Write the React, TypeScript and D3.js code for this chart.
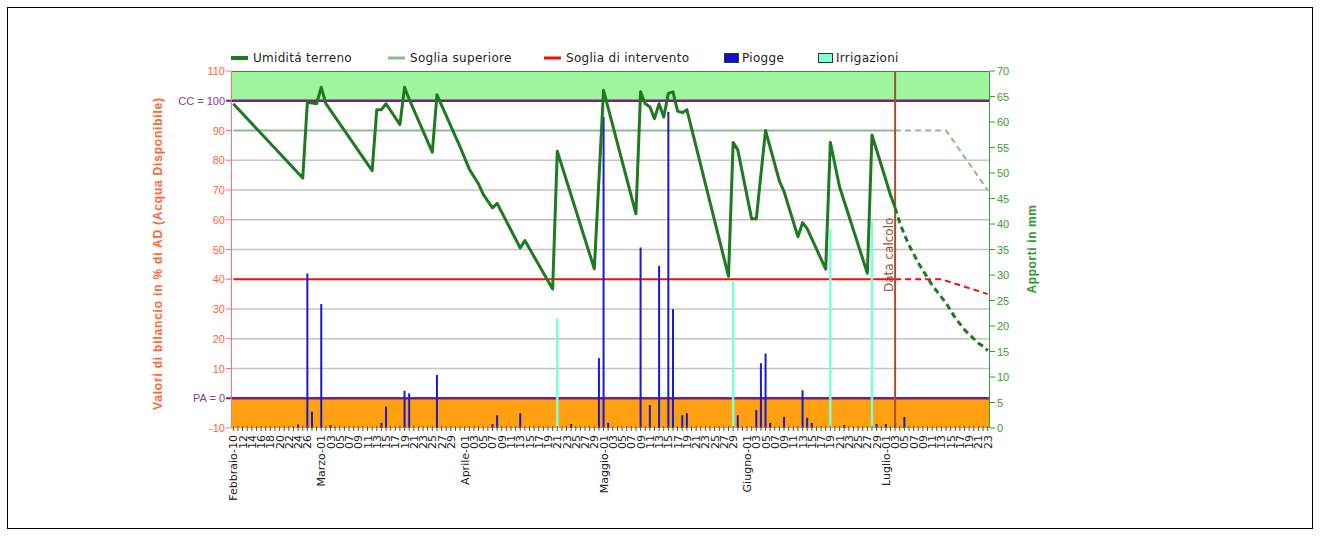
import React from 'react';
import * as d3 from 'd3';

// ---------- DATA ----------
const MONTHS_IT = ['Gennaio', 'Febbraio', 'Marzo', 'Aprile', 'Maggio', 'Giugno', 'Luglio', 'Agosto', 'Settembre', 'Ottobre', 'Novembre', 'Dicembre'];
const FIRST_DAY = new Date(2022, 1, 10);
const LAST_DAY = new Date(2022, 6, 23);
const CALC_DATE = '07-03';

// Umidità terreno (measured, solid)
const moistureDates = ['02-10', '02-25', '02-26', '02-28', '03-01', '03-02', '03-12', '03-13', '03-14', '03-15', '03-18', '03-19', '03-20', '03-25', '03-26', '03-31', '04-02', '04-04', '04-05', '04-07', '04-08', '04-13', '04-14', '04-20', '04-21', '04-29', '05-01', '05-08', '05-09', '05-10', '05-11', '05-12', '05-13', '05-14', '05-15', '05-16', '05-17', '05-18', '05-19', '05-28', '05-29', '05-30', '06-02', '06-03', '06-05', '06-08', '06-09', '06-12', '06-13', '06-14', '06-18', '06-19', '06-21', '06-27', '06-28', '07-02', '07-03'];
const moistureValues = [99, 74, 99.5, 99, 104.5, 99, 76.5, 97, 97, 99, 92, 104.5, 100.5, 82.7, 102, 84.5, 77, 72, 68.5, 64, 65.5, 50.5, 53, 36.7, 83, 43.5, 103.5, 62, 103, 99, 98, 94, 99, 94.5, 102.5, 103, 96.5, 96, 97, 41, 86, 83.5, 60.3, 60.3, 90, 73, 69.5, 54.3, 59, 57, 43.4, 86, 71, 42, 88.5, 68.3, 64];

// Umidità terreno (forecast, dashed)
const forecastDates = ['07-03', '07-04', '07-05', '07-06', '07-07', '07-08', '07-09', '07-10', '07-11', '07-12', '07-13', '07-14', '07-15', '07-16', '07-17', '07-18', '07-19', '07-20', '07-21', '07-22', '07-23'];
const forecastValues = [64, 59, 55, 51.5, 48.5, 45.5, 43, 40.5, 38, 36, 34, 32, 29.5, 27, 25, 23, 21.5, 20, 18.5, 17.5, 16];

// Soglia superiore
const upperDates = ['02-10', '07-03', '07-14', '07-23'];
const upperValues = [90, 90, 90, 70];

// Soglia di intervento
const interventionDates = ['02-10', '07-03', '07-13', '07-23'];
const interventionValues = [40, 40, 40, 35];

// Piogge (mm)
const rainDates = ['02-24', '02-26', '02-27', '03-01', '03-03', '03-14', '03-15', '03-19', '03-20', '03-26', '04-07', '04-08', '04-13', '04-24', '04-30', '05-01', '05-02', '05-09', '05-11', '05-13', '05-15', '05-16', '05-18', '05-19', '05-30', '06-03', '06-04', '06-05', '06-06', '06-09', '06-13', '06-14', '06-15', '06-22', '06-29', '07-01', '07-03', '07-05'];
const rainValues = [0.7, 30.3, 3.2, 24.3, 0.6, 1, 4.2, 7.3, 6.8, 10.4, 0.8, 2.5, 2.9, 0.8, 13.7, 61, 1, 35.4, 4.5, 31.8, 62, 23.3, 2.5, 2.9, 2.5, 3.5, 12.7, 14.6, 1, 2.2, 7.4, 2, 1, 0.6, 0.8, 0.8, 1, 2.2];

// Irrigazioni (mm)
const irrigationDates = ['04-21', '05-29', '06-19', '06-28'];
const irrigationValues = [21.5, 29, 39, 40.5];

// Axis ticks
const leftTicks = [-10, 0, 10, 20, 30, 40, 50, 60, 70, 80, 90, 100, 110];
const rightTicks = [0, 5, 10, 15, 20, 25, 30, 35, 40, 45, 50, 55, 60, 65, 70];
const gridValues = [10, 20, 30, 50, 60, 70, 80];

// ---------- HELPERS ----------
const days = d3.timeDay.range(FIRST_DAY, d3.timeDay.offset(LAST_DAY, 1));
const fmtKey = d3.timeFormat('%m-%d');
const dayKeys = days.map(fmtKey);
const pad2 = (n: number) => (n < 10 ? '0' + n : '' + n);
const tickLabels: { key: string; text: string }[] = days
  .map((d, i) => {
    const dd = d.getDate();
    const monthStart = i === 0 || dd === 1;
    const startDay = d.getMonth() === FIRST_DAY.getMonth() ? FIRST_DAY.getDate() : 1;
    if ((dd - startDay) % 2 !== 0) return null;
    const next = d3.timeDay.offset(d, 1);
    if (!monthStart && next.getDate() === 1) return null;
    return { key: fmtKey(d), text: monthStart ? `${MONTHS_IT[d.getMonth()]}-${pad2(dd)}` : pad2(dd) };
  })
  .filter(Boolean) as { key: string; text: string }[];

const L = 231, R = 990, T = 71, B = 428;

export default function App() {
  const x = d3.scaleBand<string>().domain(dayKeys).range([L, R]).padding(0);
  const xc = (k: string) => (x(k) ?? 0) + x.bandwidth() / 2;
  const y = d3.scaleLinear().domain([-10, 110]).range([B, T]);
  const yR = d3.scaleLinear().domain([0, 70]).range([B, T]);

  const line = d3
    .line<[string, number]>()
    .x((d) => xc(d[0]))
    .y((d) => y(d[1]));

  const zip = (ks: string[], vs: number[]) => ks.map((k, i) => [k, vs[i]] as [string, number]);
  const splitAt = (pts: [string, number][]) => {
    const ci = dayKeys.indexOf(CALC_DATE);
    const solid = pts.filter((p) => dayKeys.indexOf(p[0]) <= ci);
    const dashed = pts.filter((p) => dayKeys.indexOf(p[0]) >= ci);
    return { solid, dashed };
  };

  const upper = splitAt(zip(upperDates, upperValues));
  const interv = splitAt(zip(interventionDates, interventionValues));
  const moisture = zip(moistureDates, moistureValues);
  const forecast = zip(forecastDates, forecastValues);

  const cUpper = '#8fbc8f';
  const cRed = '#ee1111';
  const cGreen = '#1f7a1f';
  const cPurple = '#7a1f7a';
  const cLeft = '#ff6633';
  const cRight = '#33a033';
  const cBrown = '#a0522d';
  const font = 'DejaVu Sans, Verdana, sans-serif';
  const fontA = 'Liberation Sans, Arial, sans-serif';

  const legendItems = [
    { type: 'line', color: cGreen, x: 231, label: 'Umiditá terreno', w: 3 },
    { type: 'line', color: cUpper, x: 388, label: 'Soglia superiore', w: 2 },
    { type: 'line', color: cRed, x: 544, label: 'Soglia di intervento', w: 2 },
    { type: 'box', color: '#1010cc', x: 724, label: 'Piogge', w: 0 },
    { type: 'box', color: '#7fffd4', x: 818, label: 'Irrigazioni', w: 0 },
  ];

  const xCalc = xc(CALC_DATE);

  return (
    <svg width={1320} height={536} style={{ position: 'absolute', left: 0, top: 0, background: '#fff' }}>
      <rect x={7.5} y={7.5} width={1305} height={521} fill="#fff" stroke="#000" strokeWidth={1} />

      {/* Legend */}
      {legendItems.map((it) => (
        <g key={it.label}>
          {it.type === 'line' ? (
            <line x1={it.x} x2={it.x + 17} y1={58} y2={58} stroke={it.color} strokeWidth={it.w + 1} />
          ) : (
            <rect x={it.x + 0.5} y={53.5} width={14} height={9} fill={it.color} stroke="#333" strokeWidth={1} />
          )}
          <text x={it.x + (it.type === 'line' ? 22 : 18)} y={62} fontSize={12} letterSpacing={0.3} fontFamily={font} fill="#222">
            {it.label}
          </text>
        </g>
      ))}

      {/* bands */}
      <rect x={L} y={y(110)} width={R - L} height={y(100) - y(110)} fill="#9df59d" />
      <rect x={L} y={y(0)} width={R - L} height={y(-10) - y(0)} fill="#ffa010" />

      {/* grid */}
      {gridValues.map((v) => (
        <line key={v} x1={L} x2={R} y1={y(v)} y2={y(v)} stroke="#c4c4c4" strokeWidth={1.5} />
      ))}

      {/* thresholds */}
      <path d={line(upper.solid) ?? ''} fill="none" stroke={cUpper} strokeWidth={2} />
      <path d={line(upper.dashed) ?? ''} fill="none" stroke={cUpper} strokeWidth={2} strokeDasharray="6,4" />
      <path d={line(interv.solid) ?? ''} fill="none" stroke={cRed} strokeWidth={2} />
      <path d={line(interv.dashed) ?? ''} fill="none" stroke={cRed} strokeWidth={2} strokeDasharray="6,4" />

      {/* CC and PA lines */}
      <line x1={L} x2={R} y1={y(100)} y2={y(100)} stroke={cPurple} strokeWidth={2.5} />
      <line x1={L} x2={R} y1={y(0)} y2={y(0)} stroke={cPurple} strokeWidth={2.5} />

      {/* top border */}
      <line x1={L} x2={R} y1={T + 0.5} y2={T + 0.5} stroke="#3a8a3a" strokeWidth={1} />

      {/* rain bars */}
      {rainDates.map((k, i) => (
        <rect key={'r' + k} x={xc(k) - 1} y={yR(rainValues[i])} width={2} height={B - yR(rainValues[i])} fill="#1a1ad0" />
      ))}
      {irrigationDates.map((k, i) => (
        <rect key={'i' + k} x={xc(k) - 1.25} y={yR(irrigationValues[i])} width={2.5} height={B - yR(irrigationValues[i])} fill="#7fffd4" />
      ))}

      {/* data calcolo */}
      <line x1={xCalc} x2={xCalc} y1={T} y2={B} stroke={cBrown} strokeWidth={2} />
      <text transform={`translate(${xCalc - 2},292) rotate(-90)`} fontSize={12} fontFamily={font} fill={cBrown}>
        Data calcolo
      </text>

      {/* moisture */}
      <path d={line(moisture) ?? ''} fill="none" stroke={cGreen} strokeWidth={3} strokeLinejoin="round" />
      <path d={line(forecast) ?? ''} fill="none" stroke={cGreen} strokeWidth={3} strokeDasharray="6,4" />

      {/* left axis */}
      <line x1={L + 0.5} x2={L + 0.5} y1={T} y2={B} stroke="#ff7070" strokeWidth={1} />
      {leftTicks.map((v) => {
        const special = v === 100 ? 'CC = 100' : v === 0 ? 'PA = 0' : null;
        return (
          <g key={'l' + v}>
            <line x1={L - 5} x2={L} y1={y(v)} y2={y(v)} stroke={special ? cPurple : '#ff7070'} strokeWidth={special ? 2 : 1} />
            <text x={L - 6} y={y(v) + 4} textAnchor="end" fontSize={11} fontFamily={fontA} fill={special ? '#8a3a9a' : cLeft}>
              {special ?? v}
            </text>
          </g>
        );
      })}
      <text
        transform={`translate(162,${(T + B) / 2 + 4}) rotate(-90)`}
        textAnchor="middle"
        fontSize={12}
        letterSpacing={0.8}
        fontWeight="bold"
        fontFamily={fontA}
        fill={cLeft}
      >
        Valori di bilancio in % di AD (Acqua Disponibile)
      </text>

      {/* right axis */}
      <line x1={R - 0.5} x2={R - 0.5} y1={T} y2={B} stroke={cRight} strokeWidth={1} />
      {rightTicks.map((v) => (
        <g key={'r' + v}>
          <line x1={R} x2={R + 5} y1={yR(v)} y2={yR(v)} stroke={cRight} strokeWidth={1} />
          <text x={R + 7} y={yR(v) + 4} fontSize={11} fontFamily={fontA} fill={cRight}>
            {v}
          </text>
        </g>
      ))}
      <text
        transform={`translate(1036,249) rotate(-90)`}
        textAnchor="middle"
        fontSize={12}
        letterSpacing={0.6}
        fontWeight="bold"
        fontFamily={fontA}
        fill="#339933"
      >
        Apporti in mm
      </text>

      {/* bottom axis */}
      {dayKeys.map((k) => (
        <line key={'t' + k} x1={xc(k)} x2={xc(k)} y1={B - 2} y2={B + 3} stroke="#555" strokeWidth={1} />
      ))}
      {tickLabels.map((t) => (
        <text
          key={'x' + t.key}
          transform={`translate(${xc(t.key) + 4},${B + 7}) rotate(-90)`}
          textAnchor="end"
          fontSize={11}
          fontFamily={font}
          fill="#222"
        >
          {t.text}
        </text>
      ))}
    </svg>
  );
}
